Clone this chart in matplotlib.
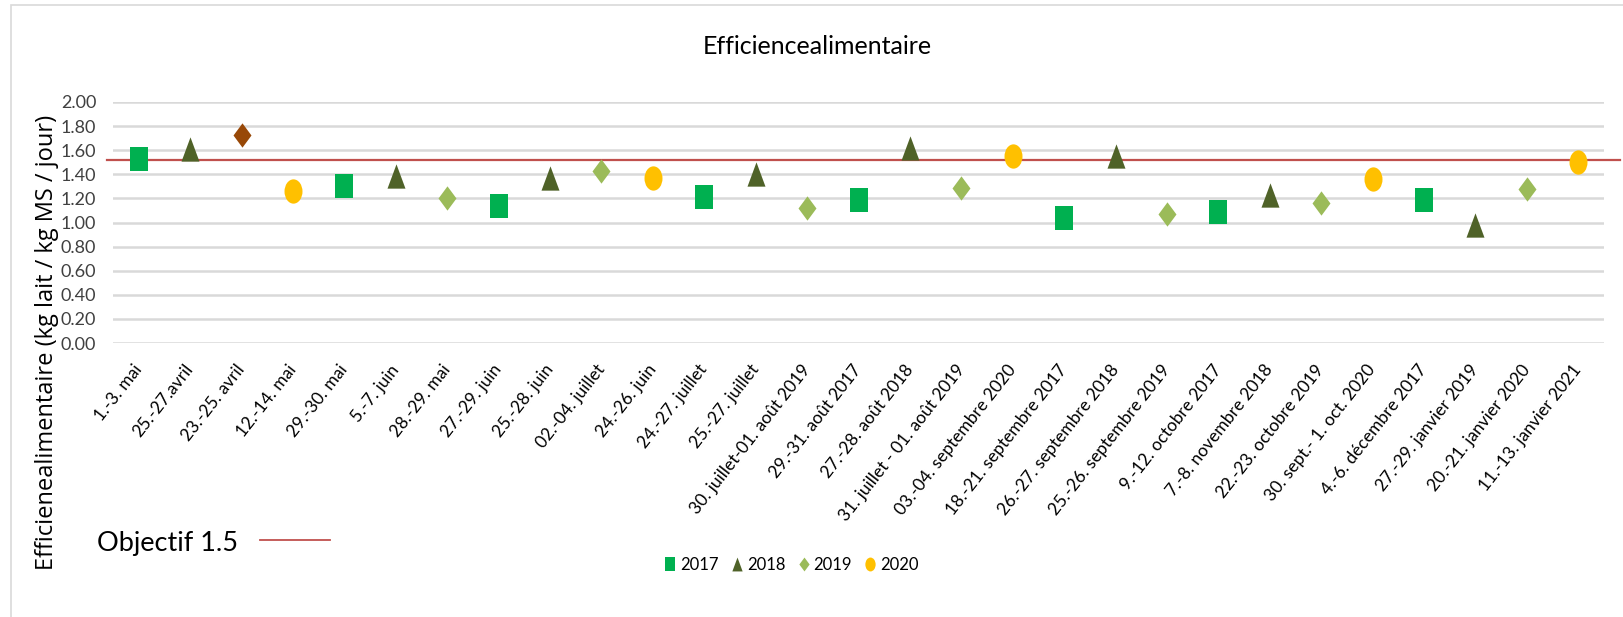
import matplotlib
matplotlib.use('Agg')
import matplotlib.pyplot as plt
from matplotlib.path import Path
from matplotlib.lines import Line2D
from matplotlib.patches import Rectangle
import numpy as np

plt.rcParams['font.family'] = ['Lato', 'DejaVu Sans']

labels = ["1.-3. mai", "25.-27.avril", "23.-25. avril", "12.-14. mai", "29.-30. mai",
          "5.-7. juin", "28.-29. mai", "27.-29. juin", "25.-28. juin", "02.-04. juillet",
          "24.-26. juin", "24.-27. juillet", "25.-27. juillet", "30. juillet-01. août 2019",
          "29.-31. août 2017", "27.-28. août 2018", "31. juillet - 01. août 2019",
          "03.-04. septembre 2020", "18.-21. septembre 2017", "26.-27. septembre 2018",
          "25.-26. septembre 2019", "9.-12. octobre 2017", "7.-8. novembre 2018",
          "22.-23. octobre 2019", "30. sept.- 1. oct. 2020", "4.-6. décembre 2017",
          "27.-29. janvier 2019", "20.-21. janvier 2020", "11.-13. janvier 2021"]

# index des catégories et valeurs par année
idx_2017 = [0, 4, 7, 11, 14, 18, 21, 25]
val_2017 = [1.53, 1.30, 1.14, 1.21, 1.19, 1.04, 1.09, 1.19]
idx_2018 = [1, 5, 8, 12, 15, 19, 22, 26]
val_2018 = [1.61, 1.39, 1.37, 1.40, 1.62, 1.55, 1.23, 0.98]
idx_2019 = [6, 9, 13, 16, 20, 23, 27]
val_2019 = [1.20, 1.43, 1.12, 1.29, 1.07, 1.16, 1.28]
idx_brun = [2]
val_brun = [1.73]
idx_2020 = [3, 10, 17, 24, 28]
val_2020 = [1.26, 1.37, 1.55, 1.36, 1.50]
objectif = 1.52

# marqueurs étirés en hauteur (comme dans Excel)
sx = 0.74
sq = Path([(-sx, -1), (sx, -1), (sx, 1), (-sx, 1), (-sx, -1)], closed=True)
tri = Path([(-sx, -1), (sx, -1), (0, 1), (-sx, -1)], closed=True)
dia = Path([(0, -1), (sx, 0), (0, 1), (-sx, 0), (0, -1)], closed=True)
circ = Path.unit_circle()
circ = Path(circ.vertices * np.array([sx, 1.0]), circ.codes)

fig = plt.figure(figsize=(16.24, 6.17), dpi=100)
ax = fig.add_axes([113/1624, 1-343/617, (1604-113)/1624, (343-102)/617])

ms = 17.5
ax.plot(idx_2017, val_2017, ls='none', marker=sq, ms=ms, color='#00B050', mew=0)
ax.plot(idx_2018, val_2018, ls='none', marker=tri, ms=ms, color='#4F6228', mew=0)
ax.plot(idx_2019, val_2019, ls='none', marker=dia, ms=ms, color='#9BBB59', mew=0)
ax.plot(idx_brun, val_brun, ls='none', marker=dia, ms=ms, color='#984807', mew=0)
ax.plot(idx_2020, val_2020, ls='none', marker=circ, ms=ms, color='#FFC000', mew=0)

ax.axhline(objectif, xmin=-0.004, xmax=1.011, color='#C0504D', lw=1.6, clip_on=False, zorder=1)

ax.set_xlim(-0.5, len(labels) - 0.5)
ax.set_ylim(0, 2)
ax.set_yticks(np.arange(0, 2.01, 0.2))
ax.set_yticklabels(['%.2f' % v for v in np.arange(0, 2.01, 0.2)], fontsize=13, color='#404040')
ax.set_xticks(range(len(labels)))
ax.set_xticklabels(labels, rotation=52, ha='right', va='center', rotation_mode='anchor', fontsize=12.5)
ax.tick_params(length=0)
ax.tick_params(axis='y', pad=12)
ax.tick_params(axis='x', pad=17)
ax.grid(axis='y', color='#D9D9D9', lw=1.8)
ax.set_axisbelow(True)
for s in ax.spines.values():
    s.set_visible(False)

fig.text(817/1624, 1-47/617, 'Efficiencealimentaire', ha='center', va='center', fontsize=18)
fig.text(47/1624, 1-342/617, 'Efficienealimentaire (kg lait / kg MS / jour)', rotation=90,
         ha='center', va='center', fontsize=17, family=['Open Sans', 'DejaVu Sans'])
fig.text(97/1624, 1-543/617, 'Objectif 1.5', ha='left', va='center', fontsize=19.5)
fig.add_artist(Line2D([260/1624, 330/1624], [1-540/617, 1-540/617], color='#C0504D', lw=1.3))

# cadre du graphique
fig.add_artist(Rectangle((11/1624, -0.01), 1.0, 1-5/617 + 0.01, fill=False, ec='#D9D9D9', lw=1.2))

handles = [Line2D([], [], ls='none', marker=sq, ms=10, color='#00B050', mew=0),
           Line2D([], [], ls='none', marker=tri, ms=10, color='#4F6228', mew=0),
           Line2D([], [], ls='none', marker=dia, ms=10, color='#9BBB59', mew=0),
           Line2D([], [], ls='none', marker=circ, ms=10, color='#FFC000', mew=0)]
fig.legend(handles, ['2017', '2018', '2019', '2020'], loc='center', ncol=4,
           bbox_to_anchor=(792/1624, 1-565/617), frameon=False, fontsize=12,
           handlelength=0.6, handletextpad=0.3, columnspacing=0.8)

fig.savefig('out.png', dpi=100)
